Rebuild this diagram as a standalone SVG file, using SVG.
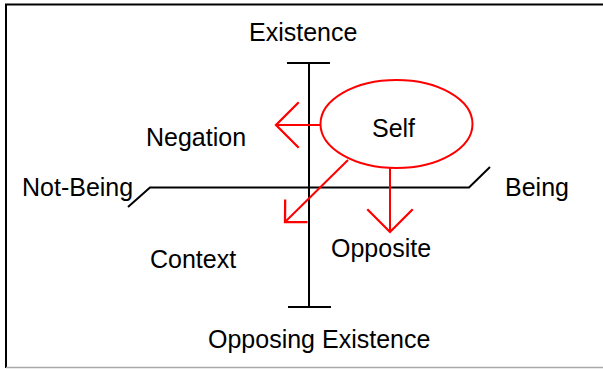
<svg xmlns="http://www.w3.org/2000/svg" width="603" height="369" viewBox="0 0 603 369">
<style>
.t{font-family:"Liberation Sans",Arial,sans-serif;font-size:25px;fill:#000}
.ax{stroke:#000;stroke-width:2;fill:none}
.rd{stroke:#ff0000;stroke-width:2;fill:none}
</style>
<defs>
<marker id="ah" markerUnits="userSpaceOnUse" markerWidth="30" markerHeight="50" viewBox="-22 -22 24 44" refX="0" refY="0" orient="auto" overflow="visible">
<path d="M-20,-20 L0,0 L-20,20" fill="none" stroke="#ff0000" stroke-width="2"/>
</marker>
<marker id="ahs" markerUnits="userSpaceOnUse" markerWidth="30" markerHeight="50" viewBox="-22 -22 24 44" refX="0" refY="0" orient="auto" overflow="visible">
<path d="M-14,-14 L0,0 L-14,14" fill="none" stroke="#ff0000" stroke-width="2"/>
</marker>
</defs>
<rect width="603" height="369" fill="#fff"/>
<g id="frame">
<line x1="5" y1="4.5" x2="603" y2="4.5" stroke="#000" stroke-width="2"/>
<line x1="6" y1="4" x2="6" y2="368" stroke="#000" stroke-width="2"/>
<line x1="6" y1="367.5" x2="603" y2="367.5" stroke="#aaa" stroke-width="1.5"/>
</g>
<g id="axes">
<line class="ax" x1="309" y1="64" x2="309" y2="307"/>
<line class="ax" x1="287" y1="63" x2="330" y2="63"/>
<line class="ax" x1="288" y1="307" x2="331" y2="307"/>
<polyline class="ax" points="128,207 150,187.5 469,187.5 490,167"/>
</g>
<g id="self">
<ellipse class="rd" cx="396.5" cy="124" rx="76" ry="44"/>
<text class="t" x="393.5" y="137" text-anchor="middle">Self</text>
</g>
<g id="connectors">
<line class="rd" x1="320.5" y1="125" x2="276" y2="125" marker-end="url(#ah)"/>
<line class="rd" x1="348" y1="160" x2="285" y2="222" marker-end="url(#ahs)"/>
<line class="rd" x1="390" y1="168" x2="390" y2="232" marker-end="url(#ah)"/>
</g>
<g id="labels">
<text class="t" x="249" y="41">Existence</text>
<text class="t" x="146" y="146">Negation</text>
<text class="t" x="22" y="196">Not-Being</text>
<text class="t" x="505" y="196">Being</text>
<text class="t" x="150" y="268">Context</text>
<text class="t" x="331" y="257">Opposite</text>
<text class="t" x="208" y="348">Opposing Existence</text>
</g>
</svg>
